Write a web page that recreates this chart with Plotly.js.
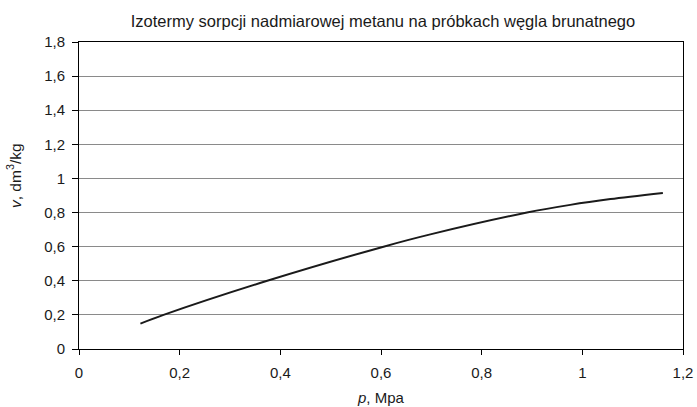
<!DOCTYPE html>
<html>
<head>
<meta charset="utf-8">
<script src="https://cdn.plot.ly/plotly-3.0.1.min.js"></script>
<style>html,body{margin:0;padding:0;background:#fff;}#chart{width:697px;height:407px;}</style>
</head>
<body>
<div id="chart"></div>
<script>
// Data
var pressure = [0.122, 0.168, 0.374, 0.605, 0.698, 0.890, 0.976, 1.056, 1.160];
var sorption = [0.149, 0.200, 0.400, 0.600, 0.672, 0.800, 0.845, 0.879, 0.915];
var xTicks = [0, 0.2, 0.4, 0.6, 0.8, 1, 1.2];
var yTicks = [0, 0.2, 0.4, 0.6, 0.8, 1, 1.2, 1.4, 1.6, 1.8];
var chartTitle = 'Izotermy sorpcji nadmiarowej metanu na próbkach węgla brunatnego';
var xTitle = '<i>p</i>, Mpa';
var yTitle = '<i>v</i>, dm<sup>3</sup>/kg';

var font = 'Liberation Sans, Arial, sans-serif';
var txt = '#1a1a1a';

var trace = {
  x: pressure, y: sorption, type: 'scatter', mode: 'lines',
  line: {color: '#1a1a1a', width: 2, shape: 'spline', smoothing: 0.8},
  hoverinfo: 'skip'
};

var layout = {
  width: 697, height: 407,
  margin: {l: 79, r: 14, t: 42, b: 58, pad: 0},
  paper_bgcolor: '#fff', plot_bgcolor: '#fff',
  separators: ', ',
  showlegend: false,
  font: {family: font, size: 15, color: txt},
  title: {text: chartTitle, font: {family: font, size: 16.5, color: txt},
          x: 383/697, xanchor: 'center', xref: 'container',
          y: (407-21)/407, yanchor: 'middle', yref: 'container'},
  xaxis: {range: [0, 1.2], tickvals: xTicks, showgrid: false, zeroline: false,
          showline: true, linecolor: '#000', linewidth: 1, mirror: true,
          ticks: 'outside', ticklen: 5, tickcolor: '#000', tickwidth: 1,
          tickfont: {family: font, size: 15, color: txt}, ticklabelstandoff: 5},
  yaxis: {range: [0, 1.8], tickvals: yTicks, showgrid: true, gridcolor: '#8a8a8a', gridwidth: 1,
          zeroline: false, showline: true, linecolor: '#000', linewidth: 1, mirror: true,
          ticks: 'outside', ticklen: 6, tickcolor: '#000', tickwidth: 1,
          tickfont: {family: font, size: 15, color: txt}, ticklabelstandoff: 4},
  annotations: [
    {text: xTitle, xref: 'paper', yref: 'paper', x: 0.5, y: -(397-349)/307,
     xanchor: 'center', yanchor: 'middle', showarrow: false,
     font: {family: font, size: 15, color: txt}},
    {text: yTitle, xref: 'paper', yref: 'paper', x: -(79-14)/604, y: (349-176)/307,
     xanchor: 'center', yanchor: 'middle', showarrow: false, textangle: -90,
     font: {family: font, size: 15.5, color: txt}}
  ]
};

Plotly.newPlot('chart', [trace], layout, {staticPlot: true, displayModeBar: false});
</script>
</body>
</html>
